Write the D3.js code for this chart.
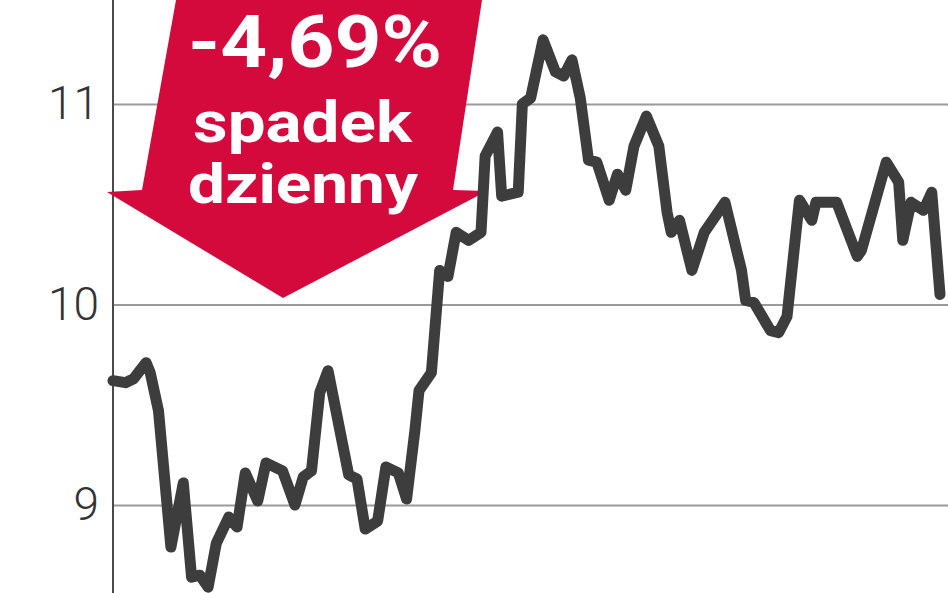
<!DOCTYPE html>
<html>

<head>
    <title>Kurs - spadek dzienny</title>
    <script src="https://d3js.org/d3.v7.min.js"></script>

    <style>
        body {
            margin: 0;
            background: #fff;
        }

        .gridlines .domain {
            display: none;
        }

        .gridlines line {
            stroke: #9a9a9a;
            stroke-width: 2;
        }

        .y.axis text {
            font-family: Roboto, sans-serif;
            font-weight: 300;
            font-size: 46px;
            fill: #333;
        }
    </style>
</head>

<body>
    <svg id="chart" height="593" width="948"></svg>

    <script>
        // sesje (indeks dnia) i kurs zamkniecia
        const days = [0, 3, 5, 8, 9, 11, 14, 17, 19, 21, 23, 25, 28, 30, 32, 35, 37, 41, 44, 46,
            48, 50, 52, 57, 59, 61, 64, 66, 69, 71, 73, 74, 77, 79, 81, 83, 86, 89, 90, 93,
            94, 98, 99, 101, 104, 107, 109, 111, 113, 115, 117, 120, 122, 124, 126, 129, 132, 134, 135, 137,
            140, 143, 148, 152, 153, 155, 159, 161, 163, 166, 169, 170, 175, 180, 181, 187, 190, 191, 193, 196,
            198, 200];
        const prices = [9.62, 9.61, 9.63, 9.71, 9.66, 9.47, 8.79, 9.11, 8.64, 8.65, 8.59, 8.81, 8.94, 8.89, 9.16, 9.02, 9.21, 9.17, 9.00, 9.14,
            9.17, 9.56, 9.67, 9.15, 9.13, 8.88, 8.92, 9.19, 9.16, 9.03, 9.37, 9.57, 9.66, 10.17, 10.14, 10.36, 10.32, 10.36, 10.74, 10.86,
            10.54, 10.56, 11.00, 11.03, 11.32, 11.16, 11.14, 11.22, 11.03, 10.72, 10.71, 10.52, 10.65, 10.57, 10.79, 10.94, 10.79, 10.46, 10.36, 10.42,
            10.17, 10.36, 10.51, 10.17, 10.02, 10.01, 9.87, 9.86, 9.94, 10.52, 10.42, 10.51, 10.51, 10.24, 10.27, 10.71, 10.61, 10.32, 10.51, 10.47,
            10.56, 10.05];
        const yTicks = [9, 10, 11];
        const labelLines = ["-4,69%", "spadek", "dzienny"];

        const svg = d3.select("#chart");
        const width = +svg.attr("width");
        const height = +svg.attr("height");
        const margin = { top: 0, right: 0, bottom: 0, left: 113 };

        const xScale = d3.scaleLinear().domain([0, 200]).range([margin.left, 940]);
        const yScale = d3.scaleLinear().domain([9, 11]).range([505, 104]);

        // gridlines
        let gridlines = d3.axisLeft(yScale)
            .tickValues(yTicks)
            .tickSize(-(width - margin.left))
            .tickFormat("");
        svg.append("g")
            .attr("class", "y gridlines")
            .attr("transform", `translate(${margin.left},0)`)
            .call(gridlines);

        // tick labels
        let leftAxis = d3.axisLeft(yScale)
            .tickValues(yTicks)
            .tickSize(0)
            .tickPadding(14)
            .tickFormat(d3.format("d"));
        let axisG = svg.append("g")
            .attr("class", "y axis")
            .attr("transform", `translate(${margin.left},0)`)
            .call(leftAxis);
        axisG.select(".domain").remove();

        // vertical axis line
        svg.append("line")
            .attr("x1", margin.left).attr("x2", margin.left)
            .attr("y1", 0).attr("y2", height)
            .attr("stroke", "#4a4a4a")
            .attr("stroke-width", 2);

        // red arrow
        const arrow = [
            [176, 0], [482, 0], [453, 190], [487, 191],
            [283, 298], [107, 192], [142, 190]
        ];
        svg.append("path")
            .attr("d", d3.line()(arrow) + "Z")
            .attr("fill", "#d50a3c");

        const labels = [
            { x: 188, y: 67, size: 72, len: 254 },
            { x: 193, y: 142, size: 58, len: 219 },
            { x: 188, y: 203, size: 56, len: 230 }
        ];
        svg.selectAll("text.label").data(labelLines)
            .join("text")
            .attr("class", "label")
            .attr("x", (d, i) => labels[i].x)
            .attr("y", (d, i) => labels[i].y)
            .attr("textLength", (d, i) => labels[i].len)
            .attr("lengthAdjust", "spacingAndGlyphs")
            .style("font-family", "Roboto, sans-serif")
            .style("font-weight", 700)
            .style("font-size", (d, i) => labels[i].size + "px")
            .style("fill", "#fff")
            .text(d => d);

        // price line
        const series = days.map((d, i) => [d, prices[i]]);
        const lineGen = d3.line()
            .x(d => xScale(d[0]))
            .y(d => yScale(d[1]));

        svg.append("path")
            .datum(series)
            .attr("d", lineGen)
            .attr("fill", "none")
            .attr("stroke", "#3d3d3d")
            .attr("stroke-width", 11)
            .attr("stroke-linejoin", "round")
            .attr("stroke-linecap", "round");
    </script>

</body>

</html>
